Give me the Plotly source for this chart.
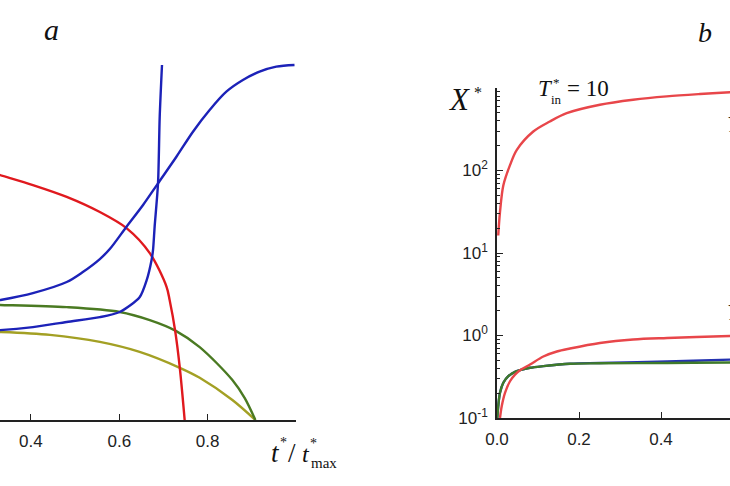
import plotly.graph_objects as go

W, H = 730, 486

# ---------------- Panel a (arbitrary y units) ----------------
a_blue1_x = [0.30, 0.33, 0.4045, 0.481, 0.5175, 0.556, 0.5785, 0.6163, 0.6538, 0.6877, 0.7293, 0.7668, 0.8045, 0.8423, 0.8798, 0.9175, 0.9553, 0.9966]
a_blue1_y = [0.318, 0.324, 0.343, 0.373, 0.400, 0.435, 0.462, 0.5224, 0.5811, 0.6397, 0.7116, 0.7792, 0.8378, 0.8873, 0.9189, 0.9414, 0.9549, 0.9595]

a_blue2_x = [0.30, 0.33, 0.4045, 0.481, 0.556, 0.601, 0.646, 0.662, 0.673, 0.6764, 0.680, 0.6877, 0.6915, 0.6967]
a_blue2_y = [0.242, 0.243, 0.251, 0.265, 0.278, 0.292, 0.332, 0.378, 0.432, 0.4595, 0.522, 0.6397, 0.8197, 0.9595]

a_red_x = [0.30, 0.33, 0.4045, 0.481, 0.556, 0.617, 0.669, 0.707, 0.714, 0.7265, 0.737, 0.748]
a_red_y = [0.673, 0.662, 0.635, 0.603, 0.562, 0.518, 0.451, 0.360, 0.324, 0.241, 0.141, 0.0]

a_green_x = [0.30, 0.33, 0.481, 0.601, 0.669, 0.728, 0.782, 0.856, 0.884, 0.908]
a_green_y = [0.312, 0.311, 0.305, 0.292, 0.270, 0.241, 0.197, 0.108, 0.059, 0.0]

a_yellow_x = [0.30, 0.33, 0.443, 0.556, 0.646, 0.737, 0.782, 0.856, 0.908]
a_yellow_y = [0.239, 0.238, 0.230, 0.211, 0.184, 0.141, 0.114, 0.054, 0.0]

a_xticks = [0.4, 0.6, 0.8]
a_xticklabels = ["0.4", "0.6", "0.8"]

# ---------------- Panel b ----------------
b_red_top_x = [0.003, 0.0073, 0.0154, 0.0317, 0.048, 0.0885, 0.129, 0.170, 0.251, 0.332, 0.414, 0.495, 0.568, 0.60]
b_red_top_y = [16.3, 31.3, 66, 116, 177, 297, 393, 495, 626, 720, 792, 845, 887, 900]

b_red_low_x = [0.0073, 0.0115, 0.0195, 0.0317, 0.0439, 0.0561, 0.0805, 0.113, 0.146, 0.178, 0.251, 0.332, 0.415, 0.568, 0.60]
b_red_low_y = [0.10, 0.139, 0.202, 0.279, 0.336, 0.38, 0.445, 0.557, 0.640, 0.695, 0.811, 0.895, 0.933, 0.986, 0.99]

b_blue_x = [0.0007, 0.003, 0.0073, 0.0154, 0.0276, 0.0439, 0.0561, 0.0805, 0.113, 0.178, 0.251, 0.415, 0.568, 0.60]
b_blue_y = [0.10, 0.139, 0.202, 0.267, 0.321, 0.363, 0.38, 0.406, 0.425, 0.455, 0.465, 0.485, 0.51, 0.515]

b_green_x = [0.0007, 0.003, 0.0073, 0.0154, 0.0276, 0.0439, 0.0561, 0.0805, 0.113, 0.178, 0.251, 0.415, 0.568, 0.60]
b_green_y = [0.10, 0.139, 0.202, 0.267, 0.321, 0.363, 0.38, 0.406, 0.425, 0.454, 0.46, 0.465, 0.47, 0.472]

b_xticks = [0.0, 0.2, 0.4]
b_xticklabels = ["0.0", "0.2", "0.4"]
b_yticks = [0.1, 1, 10, 100]
b_yticklabels = ["10<sup>-1</sup>", "10<sup>0</sup>", "10<sup>1</sup>", "10<sup>2</sup>"]
b_minor = [m * 10 ** e for e in (-1, 0, 1, 2) for m in range(2, 10)]

BLUE = "#1c22b8"
RED = "#e0191e"
GREEN = "#4a7a22"
YELLOW = "#a3a024"
RED_B = "#e8464a"
GREEN_B = "#3f7a2a"
BLUE_B = "#2432b0"

fig = go.Figure()

def add(x, y, color, xa, ya, w=2.4, smoothing=0.9):
    fig.add_trace(go.Scatter(x=x, y=y, mode="lines",
                             line=dict(color=color, width=w, shape="spline", smoothing=smoothing),
                             xaxis=xa, yaxis=ya, showlegend=False, hoverinfo="skip"))

add(a_yellow_x, a_yellow_y, YELLOW, "x", "y")
add(a_green_x, a_green_y, GREEN, "x", "y")
add(a_red_x, a_red_y, RED, "x", "y")
add(a_blue1_x, a_blue1_y, BLUE, "x", "y")
add(a_blue2_x, a_blue2_y, BLUE, "x", "y", smoothing=0.7)

add(b_red_top_x, b_red_top_y, RED_B, "x2", "y2")
add(b_blue_x, b_blue_y, BLUE_B, "x2", "y2")
add(b_green_x, b_green_y, GREEN_B, "x2", "y2")
add(b_red_low_x, b_red_low_y, RED_B, "x2", "y2")

tickfont = dict(family="Liberation Sans, Arial", size=17, color="#222")
axcol = "#222"

def px(x):
    return x / W

def py(y):
    return 1 - y / H

fig.update_layout(
    width=W, height=H, margin=dict(l=0, r=0, t=0, b=0, pad=0),
    paper_bgcolor="white", plot_bgcolor="white",
    xaxis=dict(domain=[0, px(296)], range=[0.33, 1.0], anchor="y", showline=True, linecolor=axcol, linewidth=1.6,
               ticks="inside", ticklen=6, tickcolor=axcol, tickwidth=1.2, tickvals=a_xticks, ticktext=a_xticklabels,
               tickfont=tickfont, showgrid=False, zeroline=False, ticklabelstandoff=5, automargin=False),
    yaxis=dict(domain=[py(420), py(50)], range=[0, 1], visible=False, anchor="x", automargin=False),
    xaxis2=dict(domain=[px(497), 1], range=[0, 233 / 410], anchor="y2", showline=True, linecolor=axcol, linewidth=1.6,
                ticks="inside", ticklen=6, tickcolor=axcol, tickwidth=1.2, tickvals=b_xticks, ticktext=b_xticklabels,
                tickfont=tickfont, showgrid=False, zeroline=False, ticklabelstandoff=5, automargin=False),
    yaxis2=dict(domain=[py(418), py(88)], type="log", range=[-1, 3], anchor="x2", showline=True, linecolor=axcol,
                linewidth=1.6, ticks="inside", ticklen=6, tickcolor=axcol, tickwidth=1.2, tickvals=b_yticks,
                ticktext=b_yticklabels, tickfont=tickfont, showgrid=False, zeroline=False, ticklabelstandoff=4,
                automargin=False,
                minor=dict(ticks="inside", ticklen=3, tickcolor=axcol, tickwidth=1, tickvals=b_minor, showgrid=False)),
)

serif = "Liberation Serif, Times New Roman"

def txt(x, y, s, size, xanchor="center"):
    fig.add_annotation(xref="paper", yref="paper", x=px(x), y=py(y), text=s, showarrow=False,
                       font=dict(family=serif, size=size, color="#111"), xanchor=xanchor, yanchor="middle")

txt(51, 29, "<i>a</i>", 30)
txt(705, 32, "<i>b</i>", 28)
# X*
txt(459, 100, "<i>X</i>", 31)
txt(478, 93, "*", 16)
# T*_in = 10
txt(545, 88, "<i>T</i>", 23)
txt(556, 83, "*", 13)
txt(556, 99, "in", 13)
txt(588, 88, "= 10", 23)
# t*/t*max
txt(275, 453, "<i>t</i>", 27)
txt(283, 442, "*", 14)
txt(292, 453, "/", 27)
txt(306, 454, "<i>t</i>", 24)
txt(313, 443, "*", 14)
txt(324, 463, "max", 15)
# clipped labels at right edge
txt(725, 124, "<i>Y</i>", 24, xanchor="left")
txt(725, 312, "<i>Y</i>", 24, xanchor="left")

fig.write_html("out.html", config={"displayModeBar": False},
               post_script="document.body.style.margin='0';document.body.style.overflow='hidden';")
